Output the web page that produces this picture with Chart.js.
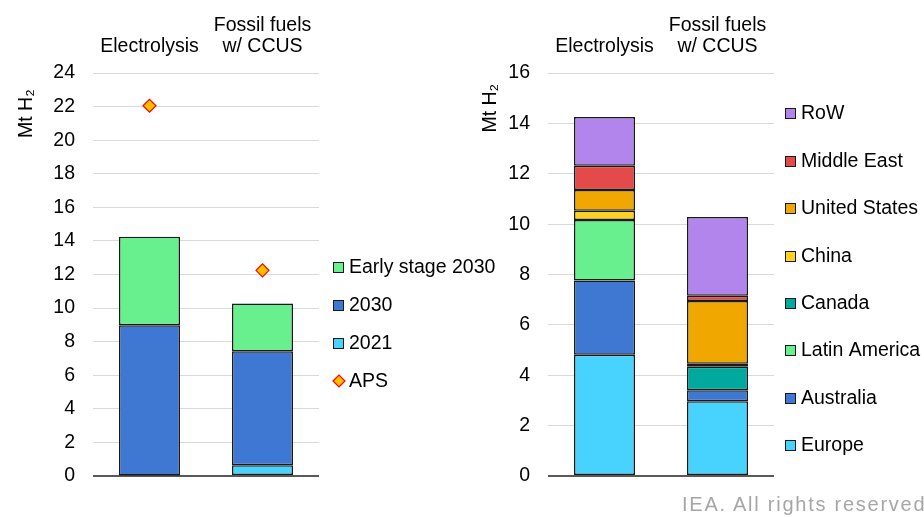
<!DOCTYPE html>
<html>
<head>
<meta charset="utf-8">
<script src="https://cdn.jsdelivr.net/npm/chart.js@4.4.0/dist/chart.umd.min.js"></script>
<style>
  body { margin: 0; background: #fff; width: 924px; height: 517px; position: relative; overflow: hidden; font-family: "Liberation Sans", Arial, sans-serif; }
  canvas { position: absolute; top: 0; }
  #byTech { left: 0; }
  #byRegion { left: 450px; }
  #credit { position: absolute; left: 682px; top: 494px; font-size: 20px; line-height: 20px; letter-spacing: 1.75px; color: #a6a6a6; white-space: nowrap; }
</style>
</head>
<body>
<canvas id="byTech" width="520" height="517"></canvas>
<canvas id="byRegion" width="474" height="517"></canvas>
<div id="credit">IEA. All rights reserved.</div>
<script>
// categories (shown on top of each panel)
const routes = [['Electrolysis'], ['Fossil fuels', 'w/ CCUS']];

// left panel, Mt H2 by project status
const cap2021 = [0.03, 0.64];
const cap2030 = [8.95, 6.79];
const capEarly = [5.27, 2.85];
const capAPS = [22.05, 12.25];
const techTicks = [0, 2, 4, 6, 8, 10, 12, 14, 16, 18, 20, 22, 24];

// right panel, Mt H2 by region (bottom to top)
const europe = [4.81, 2.97];
const australia = [2.95, 0.43];
const latinAmerica = [2.40, 0];
const canada = [0, 0.94];
const china = [0.37, 0.12];
const unitedStates = [0.82, 2.49];
const middleEast = [0.97, 0.21];
const row = [1.93, 3.12];
const regionTicks = [0, 2, 4, 6, 8, 10, 12, 14, 16];

const colors = {
    cyan: '#48D3FF',
    blue: '#3F78D2',
    green: '#69F08E',
    teal: '#00A99D',
    yellow: '#FFD21F',
    orange: '#F0A800',
    red: '#E54A4A',
    purple: '#B185EC',
    gold: '#FFC000',
    edge: '#1a1a1a',
    grid: '#d9d9d9',
    axis: '#595959'
};

const FONT = '"Liberation Sans", Arial, sans-serif';
Chart.defaults.font.family = FONT;
Chart.defaults.font.size = 19.5;
Chart.defaults.color = '#000';

// legend drawn at a fixed spot beside the plot, in the order asked for
const sideLegend = {
    id: 'sideLegend',
    afterDraw(chart, args, opts) {
        const ctx = chart.ctx;
        ctx.save();
        ctx.font = '19.5px ' + FONT;
        ctx.textBaseline = 'middle';
        opts.order.forEach((idx, k) => {
            const ds = chart.data.datasets[idx];
            const x = opts.x;
            const y = Math.round(opts.y + k * opts.step);
            if (ds.type === 'line') {
                ctx.beginPath();
                ctx.moveTo(x, y);
                ctx.lineTo(x + 6, y - 6);
                ctx.lineTo(x + 12, y);
                ctx.lineTo(x + 6, y + 6);
                ctx.closePath();
                ctx.fillStyle = ds.pointBackgroundColor;
                ctx.fill();
                ctx.lineWidth = 1.2;
                ctx.strokeStyle = ds.pointBorderColor;
                ctx.stroke();
            } else {
                ctx.fillStyle = ds.backgroundColor;
                ctx.fillRect(x, y - 5, 11, 11);
                ctx.lineWidth = 1;
                ctx.strokeStyle = colors.edge;
                ctx.strokeRect(x + 0.5, y - 4.5, 10, 10);
            }
            ctx.fillStyle = '#000';
            ctx.fillText(ds.label, x + 16, y + 1);
        });
        ctx.restore();
    }
};

function bar(label, data, color) {
    return {
        type: 'bar', label, data,
        backgroundColor: color,
        borderColor: colors.edge,
        borderWidth: 1.5,
        borderSkipped: false,
        barPercentage: 0.54,
        categoryPercentage: 1,
        order: 1
    };
}

function panelOptions(cfg) {
    return {
        responsive: false,
        animation: false,
        layout: { padding: { left: 0, top: 0, right: cfg.padRight, bottom: 41 } },
        plugins: {
            legend: { display: false },
            tooltip: { enabled: false },
            sideLegend: cfg.legend
        },
        scales: {
            x: {
                position: 'top',
                stacked: true,
                grid: { display: false, drawTicks: false },
                border: { display: false },
                ticks: { color: '#000', padding: 15, maxRotation: 0, autoSkip: false, font: { size: 19.5, lineHeight: 1.12 } },
                afterFit: s => { s.height = 73; }
            },
            y: {
                stacked: true,
                min: cfg.ticks[0],
                max: cfg.ticks[cfg.ticks.length - 1],
                afterBuildTicks: s => { s.ticks = cfg.ticks.map(v => ({ value: v })); },
                afterFit: s => { s.width = cfg.axisWidth; },
                border: { display: false },
                grid: {
                    drawTicks: false,
                    color: c => c.tick && c.tick.value === 0 ? colors.axis : colors.grid,
                    lineWidth: c => c.tick && c.tick.value === 0 ? 2 : 1
                },
                ticks: { color: '#000', padding: 18 },
                title: {
                    display: true,
                    text: cfg.title,
                    align: 'end',
                    color: '#000',
                    font: { size: 19.5 },
                    padding: { top: cfg.titlePad, bottom: 0 }
                }
            }
        }
    };
}

new Chart(document.getElementById('byTech'), {
    data: {
        labels: routes,
        datasets: [
            bar('2021', cap2021, colors.cyan),
            bar('2030', cap2030, colors.blue),
            bar('Early stage 2030', capEarly, colors.green),
            {
                type: 'line', label: 'APS', data: capAPS,
                stack: 'aps', showLine: false, order: 0,
                pointStyle: 'rectRot', pointRadius: 6.5,
                pointBackgroundColor: colors.gold,
                pointBorderColor: '#FF0000',
                pointBorderWidth: 1.2
            }
        ]
    },
    options: panelOptions({
        ticks: techTicks, axisWidth: 93, padRight: 201,
        title: 'Mt H\u2082   ', titlePad: 15.3,
        legend: { x: 333, y: 266.5, step: 38.3, order: [2, 1, 0, 3] }
    }),
    plugins: [sideLegend]
});

new Chart(document.getElementById('byRegion'), {
    data: {
        labels: routes,
        datasets: [
            bar('Europe', europe, colors.cyan),
            bar('Australia', australia, colors.blue),
            bar('Latin America', latinAmerica, colors.green),
            bar('Canada', canada, colors.teal),
            bar('China', china, colors.yellow),
            bar('United States', unitedStates, colors.orange),
            bar('Middle East', middleEast, colors.red),
            bar('RoW', row, colors.purple)
        ]
    },
    options: panelOptions({
        ticks: regionTicks, axisWidth: 98, padRight: 150,
        title: 'Mt H\u2082  ', titlePad: 29.3,
        legend: { x: 335, y: 113.3, step: 47.4, order: [7, 6, 5, 4, 3, 2, 1, 0] }
    }),
    plugins: [sideLegend]
});
</script>
</body>
</html>
